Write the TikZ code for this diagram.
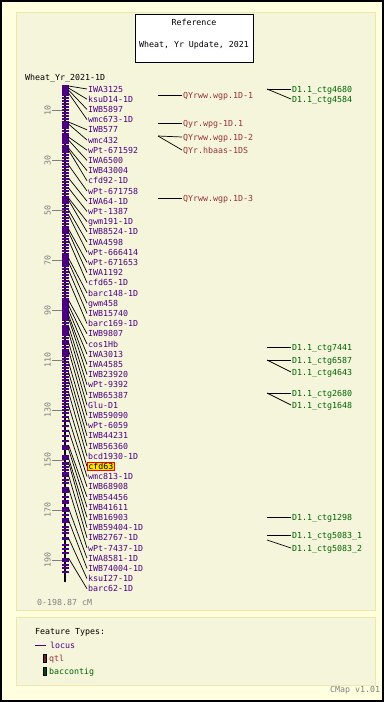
\documentclass[tikz,border=0pt]{standalone}
\usepackage{fontspec}
\setmainfont{DejaVu Sans Mono}
\usepackage{tikz}

\definecolor{outerbg}{HTML}{FFFFE0}
\definecolor{panelbg}{HTML}{F5F5DC}
\definecolor{panelrule}{HTML}{EEE8AA}
\definecolor{locuscol}{HTML}{4B0082}
\definecolor{qtlcol}{HTML}{993333}
\definecolor{ctgcol}{HTML}{006400}
\definecolor{scalecol}{HTML}{808080}

\begin{document}
\begin{tikzpicture}[x=1pt, y=-1pt, font=\fontsize{8.3}{9}\selectfont,
  lab/.style = {anchor=west, inner sep=1pt, text height=6pt, text depth=0pt},
  loc/.style = {lab, text=locuscol},
  hl/.style = {lab, text=black, fill=yellow!85!orange, draw=red, line width=0.7pt},
  qtl/.style = {lab, text=qtlcol},
  ctg/.style = {lab, text=ctgcol},
  conn/.style = {line width=0.7pt},
  mk/.style = {fill=locuscol},
  panel/.style = {fill=panelbg, draw=panelrule, line width=1pt}]
	\useasboundingbox (0,0) rectangle (384,702);
	\fill[outerbg] (0,0) rectangle (384,702);
	\draw[line width=2pt] (1,1) rectangle (383,701);
	\draw[panel] (16,12) rectangle (375,610);
	\draw[panel] (16,617) rectangle (375,685);

	% title
	\node[draw, fill=white, line width=0.8pt, minimum width=118pt, minimum height=48pt] (tbox) at (194,38) {};
	\node (tref) at (194,22) {Reference};
	\node (tmap) at (194,45) {Wheat, Yr Update, 2021};
	\node[lab] (chr) at (24,77) {Wheat\_Yr\_2021-1D};

	% chromosome
	\coordinate (bartop) at (65,85);
	\coordinate (barbot) at (65,582);
	\draw[line width=2.2pt] (bartop) -- (barbot);
	\foreach \c in {10,30,...,190} {
		\draw[scalecol, line width=0.7pt] (52,{85+2.5*\c}) -- (64,{85+2.5*\c});
		\node[scalecol, rotate=90] (s\c) at (47.5,{85+2.5*\c}) {\c};
	}
	\foreach \t in {86,89,...,410}
		\fill[mk] (61.5,\t-0.6) rectangle (68.5,\t+0.6);
	\foreach \t in {413,417,421,426,431,436,441,467,470,480,483,497,501,503,515,527,530,533,545,549,553,565,568,572}
		\fill[mk] (61.5,\t-0.6) rectangle (68.5,\t+0.6);
	\foreach \a/\b in {85/95,121/127,135/143,147/152,197/203,228/233,255/265,300/320,325/335,340/345,350/356,445/450,455/460,462/465,472/477,487/493,507/512,518/523,537/540,558/562}
		\fill[mk] (61.5,\a) rectangle (68.5,\b);

	% loci
	\foreach \lab/\m/\sty [count=\i] in {IWA3125/86/loc, ksuD14-1D/88/loc, IWB5897/90/loc, wmc673-1D/93/loc,
		IWB577/122/loc, wmc432/124/loc, wPt-671592/137/loc, IWA6500/140/loc, IWB43004/148/loc, cfd92-1D/150/loc,
		wPt-671758/165/loc, IWA64-1D/178/loc, wPt-1387/188/loc, gwm191-1D/198/loc, IWB8524-1D/200/loc,
		IWA4598/210/loc, wPt-666414/215/loc, wPt-671653/229/loc, IWA1192/232/loc, cfd65-1D/240/loc,
		barc148-1D/258/loc, gwm458/262/loc, IWB15740/270/loc, barc169-1D/280/loc, IWB9807/300/loc,
		cos1Hb/305/loc, IWA3013/310/loc, IWA4585/315/loc, IWB23920/318/loc, wPt-9392/326/loc,
		IWB65387/332/loc, Glu-D1/342/loc, IWB59090/350/loc, wPt-6059/362/loc, IWB44231/372/loc,
		IWB56360/380/loc, bcd1930-1D/392/loc, cfd63/405/hl, wmc813-1D/418/loc, IWB68908/430/loc,
		IWB54456/445/loc, IWB41611/449/loc, IWB16903/458/loc, IWB59404-1D/462/loc, IWB2767-1D/475/loc,
		wPt-7437-1D/488/loc, IWA8581-1D/508/loc, IWB74004-1D/520/loc, ksuI27-1D/538/loc, barc62-1D/558/loc} {
		\coordinate (m\i) at (68.5,\m);
		\node[\sty] (n\i) at (87,{89+10.2*(\i-1)}) {\lab};
		\draw[conn] (m\i) -- (n\i.west);
	}
	\node[lab, text=scalecol] (range) at (36,602) {0-198.87 cM};

	% qtl
	\coordinate (qa) at (158,95);
	\coordinate (qb) at (158,123);
	\coordinate (qc) at (158,136);
	\coordinate (qe) at (158,198);
	\node[qtl] (qtla) at (182,95) {QYrww.wgp.1D-1};
	\node[qtl] (qtlb) at (182,123) {Qyr.wpg-1D.1};
	\node[qtl] (qtlc) at (182,137) {QYrww.wgp.1D-2};
	\node[qtl] (qtld) at (182,150) {QYr.hbaas-1DS};
	\node[qtl] (qtle) at (182,198) {QYrww.wgp.1D-3};
	\draw[conn] (qa) -- (qtla.west);
	\draw[conn] (qb) -- (qtlb.west);
	\draw[conn] (qc) -- (qtlc.west);
	\draw[conn] (qc) -- (qtld.west);
	\draw[conn] (qe) -- (qtle.west);

	% bac contigs
	\coordinate (ca) at (267,89);
	\coordinate (cb) at (267,347);
	\coordinate (cc) at (267,360);
	\coordinate (cd) at (267,393);
	\coordinate (ce) at (267,517);
	\coordinate (cf) at (267,535);
	\coordinate (cg) at (267,540);
	\node[ctg] (ctga) at (291,89) {D1.1\_ctg4680};
	\node[ctg] (ctgb) at (291,99) {D1.1\_ctg4584};
	\node[ctg] (ctgc) at (291,347) {D1.1\_ctg7441};
	\node[ctg] (ctgd) at (291,360) {D1.1\_ctg6587};
	\node[ctg] (ctge) at (291,372) {D1.1\_ctg4643};
	\node[ctg] (ctgf) at (291,393) {D1.1\_ctg2680};
	\node[ctg] (ctgg) at (291,405) {D1.1\_ctg1648};
	\node[ctg] (ctgh) at (291,517) {D1.1\_ctg1298};
	\node[ctg] (ctgi) at (291,535) {D1.1\_ctg5083\_1};
	\node[ctg] (ctgj) at (291,548) {D1.1\_ctg5083\_2};
	\draw[conn] (ca) -- (ctga.west);
	\draw[conn] (ca) -- (ctgb.west);
	\draw[conn] (cb) -- (ctgc.west);
	\draw[conn] (cc) -- (ctgd.west);
	\draw[conn] (cc) -- (ctge.west);
	\draw[conn] (cd) -- (ctgf.west);
	\draw[conn] (cd) -- (ctgg.west);
	\draw[conn] (ce) -- (ctgh.west);
	\draw[conn] (cf) -- (ctgi.west);
	\draw[conn] (cg) -- (ctgj.west);

	% legend
	\node[lab] (ftypes) at (34,631) {Feature Types:};
	\coordinate (lga) at (35,645);
	\coordinate (lgb) at (46,645);
	\draw[locuscol, line width=0.8pt] (lga) -- (lgb);
	\node[loc] (lgloc) at (49,645) {locus};
	\filldraw[fill=qtlcol!70!black, draw=black, line width=0.5pt] (43,654) rectangle (46,662);
	\node[qtl] (lgqtl) at (48,658) {qtl};
	\filldraw[fill=ctgcol!80!black, draw=black, line width=0.5pt] (43,667) rectangle (46,675);
	\node[ctg] (lgctg) at (48,671) {baccontig};
	\node[lab, text=scalecol] (cmap) at (329,689) {CMap v1.01};
\end{tikzpicture}
\end{document}
